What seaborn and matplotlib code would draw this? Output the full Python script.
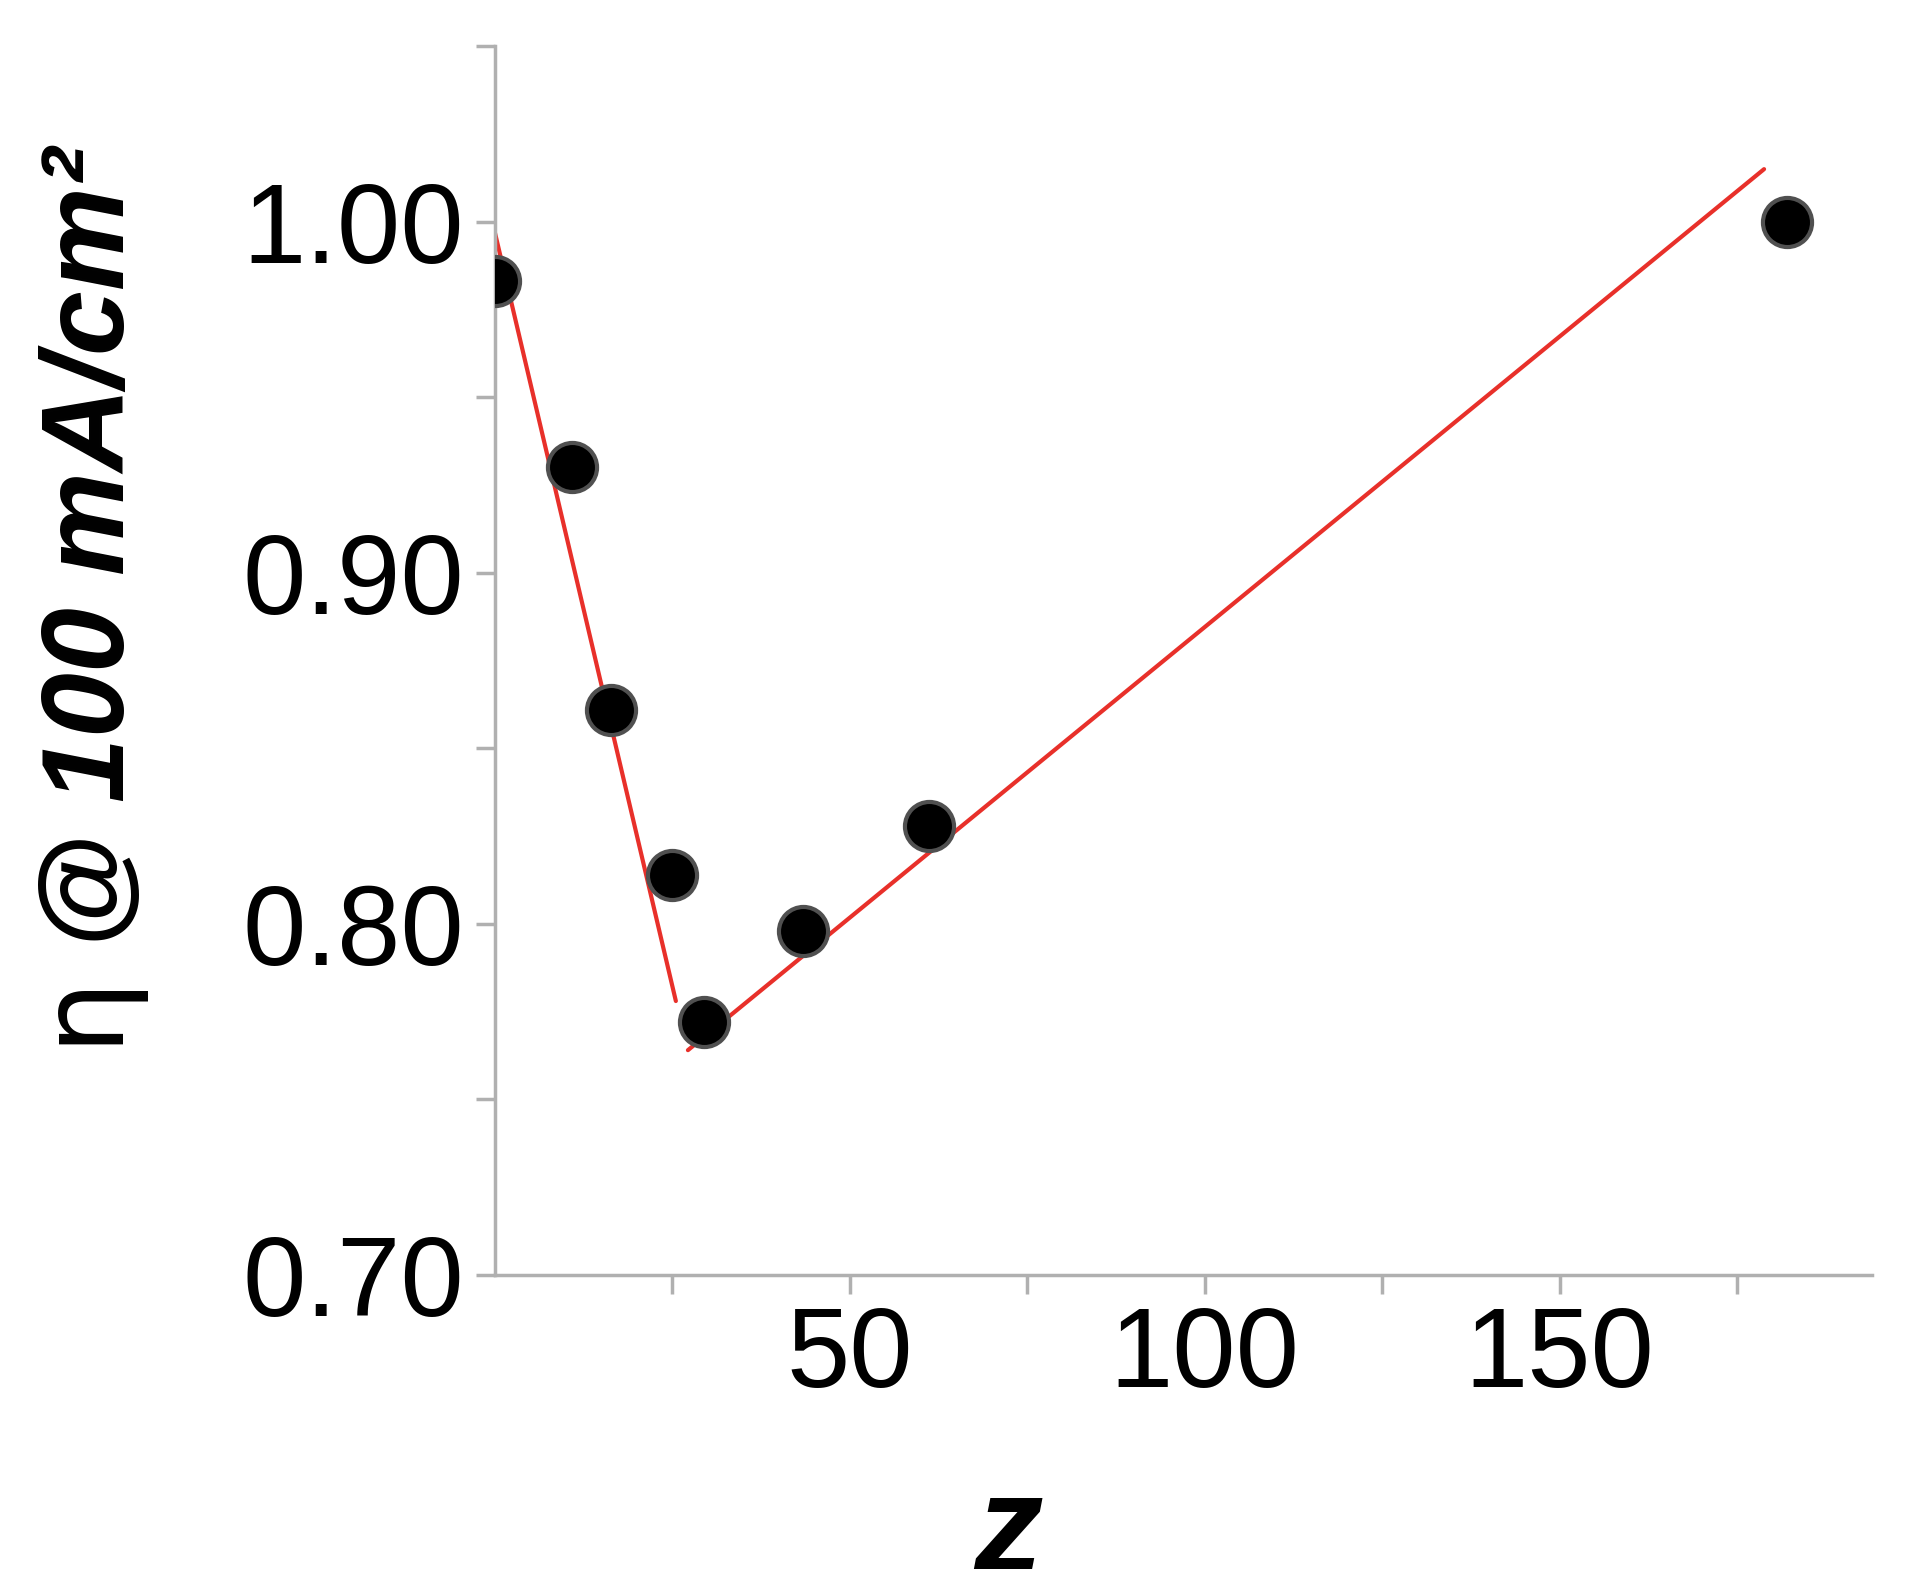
import numpy as np
import pandas as pd
import seaborn as sns
import matplotlib.pyplot as plt

# 数据
z = [0, 10.9, 16.4, 25, 29.5, 43.4, 61.2, 182]
eta = [0.983, 0.930, 0.861, 0.814, 0.772, 0.798, 0.828, 1.000]
fit1_x = [0, 25.5]
fit1_y = [0.997, 0.778]
fit2_x = [27.2, 178.8]
fit2_y = [0.764, 1.015]

sns.set_style("white")
plt.rcParams['font.family'] = ['Liberation Sans', 'DejaVu Sans']
plt.rcParams['mathtext.fontset'] = 'custom'
plt.rcParams['mathtext.rm'] = 'DejaVu Sans'

df = pd.DataFrame({'z': z, 'eta': eta})
fig = plt.figure(figsize=(19.18, 15.69), dpi=100)
ax = fig.add_axes([0.258, 0.1875, 0.718, 0.783])

ax.plot(fit1_x, fit1_y, color='#e8302a', lw=3)
ax.plot(fit2_x, fit2_y, color='#e8302a', lw=3)
sns.scatterplot(data=df, x='z', y='eta', ax=ax, s=1250, color='black',
                edgecolor='#505050', linewidth=3, zorder=3, legend=False)

ax.set_xlim(0, 194)
ax.set_ylim(0.70, 1.05)
ax.set_xticks([50, 100, 150])
ax.set_xticks([25, 75, 125, 175], minor=True)
ax.set_yticks([0.70, 0.80, 0.90, 1.00])
ax.set_yticklabels(['0.70', '0.80', '0.90', '1.00'])
ax.set_yticks([0.75, 0.85, 0.95, 1.05], minor=True)
ax.tick_params(which='both', direction='out', color='#b0b0b0', width=2.5,
               labelsize=82, pad=8, bottom=True, left=True, labelcolor='black')
ax.tick_params(which='both', length=14)
for s in ['top', 'right']:
    ax.spines[s].set_visible(False)
for s in ['left', 'bottom']:
    ax.spines[s].set_color('#b0b0b0')
    ax.spines[s].set_linewidth(2.5)

ax.set_xlabel('z', fontsize=100, fontweight='bold', fontstyle='italic', color='black')
ax.xaxis.set_label_coords(0.373, -0.16)
ax.set_ylabel(r'$\mathrm{\eta}$ @ 100 mA/cm²', fontsize=84, fontweight='bold',
              fontstyle='italic', color='black')
ax.yaxis.set_label_coords(-0.25, 0.55)

fig.savefig('out.png', dpi=100)
